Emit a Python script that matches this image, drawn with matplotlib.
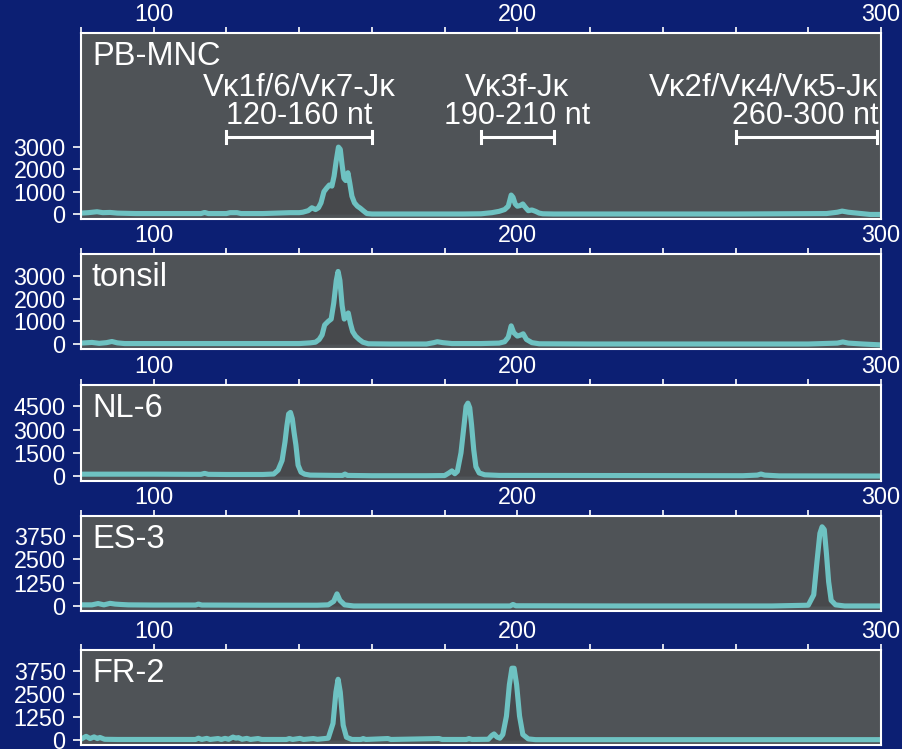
import matplotlib
matplotlib.use("Agg")
import matplotlib.pyplot as plt

plt.rcParams['font.family'] = ['Liberation Sans', 'DejaVu Sans']

# ---------------- data ----------------
panel_names = ["PB-MNC", "tonsil", "NL-6", "ES-3", "FR-2"]

pb_nt = [80, 82, 84.4, 86, 88, 90, 95, 105, 113, 114, 115, 120, 121, 122.9, 124, 130, 137.5,
         138.9, 140, 141, 142.5, 143.5, 144.5, 145.3, 146, 146.8, 147.5, 148.3, 149, 149.6,
         150.2, 150.8, 151.3, 151.8, 152.3, 152.8, 153.4, 153.9, 154.5, 155.2, 156, 156.8,
         157.6, 158.6, 160, 170, 185, 190, 193, 195, 196.5, 197.5, 198.3, 198.8, 199.4, 200,
         200.8, 201.5, 202.2, 203, 204, 205, 206, 207, 210, 230, 260, 285, 288, 289.3, 291,
         294, 297, 300]
pb_val = [40, 60, 100, 60, 70, 40, 20, 20, 20, 70, 20, 20, 60, 60, 20, 20, 60,
          60, 60, 80, 150, 280, 200, 280, 500, 1000, 1150, 1300, 1250, 1700,
          2400, 3000, 2900, 2200, 1600, 1500, 1850, 1400, 800, 500, 350, 260,
          150, 20, 0, 0, 0, 10, 60, 120, 200, 350, 850, 750, 450, 350,
          380, 450, 300, 150, 180, 120, 40, 10, 0, 0, 0, 20, 80, 130, 80,
          30, -20, -20]

ton_nt = [80, 83, 85, 87, 88.5, 90, 92, 100, 120, 140, 143, 144.5, 145.5, 146.3, 147, 148,
          148.8, 149.5, 150.2, 150.7, 151.2, 151.8, 152.4, 153, 153.5, 154.1, 154.7, 155.5,
          156.5, 157.5, 159, 165, 175, 177, 178, 179.5, 182, 190, 195, 196.5, 197.5, 198.3,
          199, 200, 201, 201.6, 202.5, 204, 206, 220, 280, 288, 289.5, 291, 295, 300]
ton_val = [40, 70, 30, 60, 110, 50, 20, 20, 20, 20, 50, 80, 200, 400, 840, 1000,
           1100, 1800, 2800, 3200, 2800, 1700, 1100, 1250, 1370, 900, 550, 350,
           200, 80, 10, 0, 0, 60, 100, 60, 20, 20, 40, 100, 300, 800,
           500, 350, 400, 450, 200, 60, 10, 0, 0, 40, 90, 40, 0, -40]

nl_nt = [80, 100, 110, 113, 114, 115, 120, 130, 133, 134.2, 135.3, 136.1, 136.6, 137.1,
         137.6, 138.1, 138.6, 139.1, 139.7, 140.5, 141.5, 143, 150, 152, 152.6, 153.2, 160,
         175, 180, 181.2, 182, 182.8, 183.5, 184.5, 185.3, 185.9, 186.4, 186.9, 187.4, 188,
         188.6, 189.5, 191, 195, 230, 262, 266, 267, 268, 272, 300]
nl_val = [120, 120, 110, 110, 170, 110, 100, 100, 130, 380, 1000, 2200, 3200, 4000,
          4100, 3700, 2800, 2000, 700, 250, 120, 60, 40, 40, 130, 40, 20,
          20, 30, 200, 330, 150, 300, 1500, 3200, 4500, 4700, 4400, 3300, 1700,
          600, 200, 80, 40, 30, 20, 60, 130, 60, 10, 0]

es_nt = [80, 83, 84.7, 86.3, 88, 89.4, 91, 93, 100, 111.5, 112.3, 113.2, 130, 145, 148,
         149.5, 150.4, 151.2, 152.5, 155, 180, 198, 198.8, 199.6, 230, 270, 280, 281.5,
         282.4, 283.2, 283.8, 284.4, 285, 285.6, 286.3, 287.5, 290, 300]
es_val = [60, 60, 130, 60, 140, 100, 80, 60, 50, 50, 100, 50, 40, 40, 60,
          250, 650, 300, 60, 0, 0, 0, 80, 10, 0, 0, 40, 600,
          2400, 3900, 4250, 4100, 2800, 1300, 300, 60, 0, 0]

fr_nt = [80, 81.4, 82.5, 83.6, 84.5, 85.2, 86.5, 90, 100, 111.5, 112.3, 113.2, 114.6,
         115.5, 117.7, 118.6, 119.6, 120.6, 121.8, 122.6, 123.3, 124.3, 125.6, 126.6, 128.7,
         129.7, 136.5, 137.3, 138.2, 140.2, 141.2, 143.9, 145, 148, 149.3, 150.1, 150.7,
         151.3, 152.1, 153, 154.5, 157, 157.6, 158.3, 164.4, 165.2, 178.5, 179.3, 186,
         186.7, 187.5, 192, 193, 193.6, 194.4, 195.2, 196, 197, 197.8, 198.5, 199.1, 199.8,
         200.6, 201.5, 203, 205, 300]
fr_val = [50, 200, 80, 170, 80, 140, 40, 30, 30, 30, 100, 30, 90,
          30, 80, 30, 90, 40, 160, 100, 130, 40, 90, 30, 80,
          30, 30, 80, 30, 90, 30, 80, 40, 100, 900, 2600, 3300,
          2600, 800, 150, 30, 30, 80, 30, 80, 30, 80, 30, 30,
          80, 30, 40, 250, 330, 160, 100, 300, 1300, 3000, 3900, 3900, 3000,
          1300, 300, 60, 20, 20]

series_nt = [pb_nt, ton_nt, nl_nt, es_nt, fr_nt]
series_val = [pb_val, ton_val, nl_val, es_val, fr_val]

y_ticks = [[0, 1000, 2000, 3000],
           [0, 1000, 2000, 3000],
           [0, 1500, 3000, 4500],
           [0, 1250, 2500, 3750],
           [0, 1250, 2500, 3750]]
y_limits = [(-224, 8117), (-220, 3970), (-320, 5870), (-270, 4830), (-270, 4890)]

x_major = [100, 200, 300]
x_minor = list(range(80, 301, 20))

region_labels = ["V\u03ba1f/6/V\u03ba7-J\u03ba", "V\u03ba3f-J\u03ba", "V\u03ba2f/V\u03ba4/V\u03ba5-J\u03ba"]
region_ranges = ["120-160 nt", "190-210 nt", "260-300 nt"]
region_start = [120, 190, 260]
region_end = [160, 210, 299]

# ---------------- style ----------------
BG = '#0c1f73'
FACE = '#4f5357'
LINE = '#6ec2c2'
FILL = '#47494c'

fig = plt.figure(figsize=(9.03, 7.49), dpi=100, facecolor=BG)

W, H = 903.0, 749.0
boxes = [(33, 219), (254, 349), (385, 481), (516, 611), (650, 745)]
left_px, right_px = 81, 881

axes = []
for i, (top, bot) in enumerate(boxes):
    ax = fig.add_axes([left_px / W, 1 - bot / H, (right_px - left_px) / W, (bot - top) / H])
    ax.set_facecolor(FACE)
    x = series_nt[i]
    y = series_val[i]
    ax.fill_between(x, y, 0, color=FILL, lw=0, zorder=1)
    ax.plot(x, y, color=LINE, lw=3.7, solid_joinstyle='round', solid_capstyle='round', zorder=2)
    ax.set_xlim(80, 300)
    ax.set_ylim(*y_limits[i])
    ax.set_xticks(x_major)
    ax.set_xticks(x_minor, minor=True)
    ax.set_xticklabels([str(v) for v in x_major])
    ax.xaxis.tick_top()
    ax.tick_params(axis='x', which='both', top=True, bottom=False, labeltop=True,
                   labelbottom=False, length=4, width=1.2, color='white',
                   labelcolor='white', labelsize=16.8, pad=1, direction='out')
    ax.set_yticks(y_ticks[i])
    ax.tick_params(axis='y', which='both', left=True, right=False, length=6, width=1.2,
                   color='white', labelcolor='white', labelsize=16.8, pad=5, direction='out')
    for s in ax.spines.values():
        s.set_color('white')
        s.set_linewidth(1.5)
    ax.annotate(panel_names[i], xy=(0, 1), xycoords='axes fraction',
                xytext=(11, -32), textcoords='offset pixels',
                ha='left', va='baseline', color='white', fontsize=23.5)
    axes.append(ax)

# region annotations in panel 1
ax0 = axes[0]
def ypix_to_data(px):
    return (214 - px) / 22.3 * 1000

line1_y = ypix_to_data(96)
line2_y = ypix_to_data(124)
bar_y = ypix_to_data(137)
cap = 290
for k in range(3):
    s, e = region_start[k], region_end[k]
    if k == 2:
        xt, ha = e + 0.3, 'right'
    else:
        xt, ha = (s + e) / 2.0, 'center'
    ax0.text(xt, line1_y, region_labels[k], ha=ha, va='baseline', color='white', fontsize=22.5)
    ax0.text(xt, line2_y, region_ranges[k], ha=ha, va='baseline', color='white', fontsize=22)
    ax0.plot([s, e], [bar_y, bar_y], color='white', lw=2.2, solid_capstyle='butt')
    ax0.plot([s, s], [bar_y - cap, bar_y + cap], color='white', lw=2.2)
    ax0.plot([e, e], [bar_y - cap, bar_y + cap], color='white', lw=2.2)

fig.savefig('out.png', dpi=100, facecolor=BG)
